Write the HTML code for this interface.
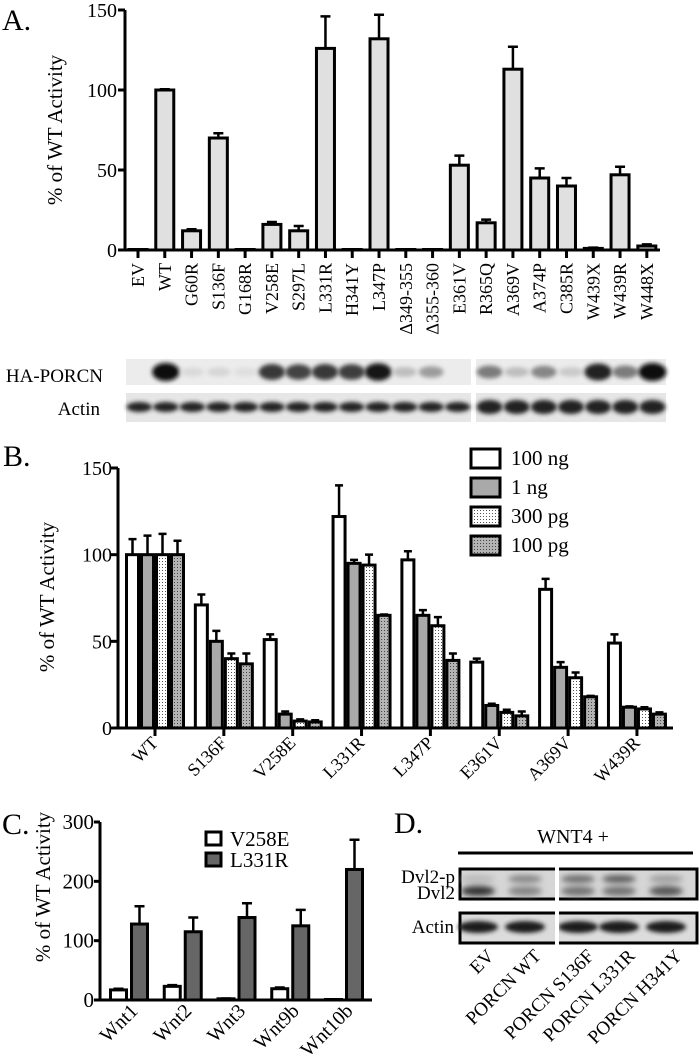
<!DOCTYPE html>
<html><head><meta charset="utf-8"><style>
body{margin:0;background:#fff}
svg{display:block;font-family:"Liberation Serif",serif}
</style></head><body>
<svg id="fig" width="700" height="1061" viewBox="0 0 700 1061" xmlns="http://www.w3.org/2000/svg">
<defs>
<pattern id="dotW" width="3" height="3" patternUnits="userSpaceOnUse"><rect width="3" height="3" fill="#fff"/><rect width="1" height="1" fill="#555"/></pattern>
<pattern id="dotG" width="3" height="3" patternUnits="userSpaceOnUse"><rect width="3" height="3" fill="#b4b4b4"/><rect width="1" height="1" fill="#444"/></pattern>
<filter id="blur" x="-50%" y="-50%" width="200%" height="200%"><feGaussianBlur stdDeviation="2"/></filter>
<filter id="blur3" x="-50%" y="-50%" width="200%" height="200%"><feGaussianBlur stdDeviation="3"/></filter>
</defs>
<g id="gA"></g>
<g id="gBlot"></g>
<g id="gB"></g>
<g id="gC"></g>
<g id="gD"></g>
</svg>
<script>
// Panel A data
const aCats = ["EV","WT","G60R","S136F","G168R","V258E","S297L","L331R","H341Y","L347P","Δ349-355","Δ355-360","E361V","R365Q","A369V","A374P","C385R","W439X","W439R","W448X"];
const aVals = [0,100,12,70,0,16,12,126,0,132,0,0,53,17,113,45,40,1,47,2.5];
const aErrs = [0,0.5,1,3,0,1.5,3,20,0,15,0,0,6,2,14,6,5,0.5,5,1];
const aTicks = [0,50,100,150];
// Panel B data
const bCats = ["WT","S136F","V258E","L331R","L347P","E361V","A369V","W439R"];
const bSeries = ["100 ng","1 ng","300 pg","100 pg"];
const b100ng = [100,71,51,122,97,38,80,49];
const b1ng = [100,50,8,95,65,13,35,12];
const b300pg = [100,40,4,94,59,9,29,11];
const b100pg = [100,37,3.5,65,39,7,18,8];
const b100ngErr = [9,6,3,18,5,2,6,5];
const b1ngErr = [11,6,1.5,2,3,1,3,0.5];
const b300pgErr = [12,3,1,6,5,1.5,3,1];
const b100pgErr = [8,6,1,0.5,4,2.5,0.5,1];
const bTicks = [0,50,100,150];
// Panel C data
const cCats = ["Wnt1","Wnt2","Wnt3","Wnt9b","Wnt10b"];
const cV258E = [17,23,2,19,0.5];
const cV258EErr = [2,2,0.5,2,0];
const cL331R = [128,115,139,125,220];
const cL331RErr = [30,24,24,27,50];
const cTicks = [0,100,200,300];
// Blot lane intensities (0..1)
const haLanes1 = [0,1,0.08,0.1,0.06,0.8,0.75,0.8,0.78,0.95,0.2,0.35,0.02];
const haLanes2 = [0.5,0.2,0.45,0.15,0.9,0.5,1];
const dLanes = ["EV","PORCN WT","PORCN S136F","PORCN L331R","PORCN H341Y"];

const NS="http://www.w3.org/2000/svg";
function mk(tag,parent,attrs){const e=document.createElementNS(NS,tag);for(const k in attrs)e.setAttribute(k,attrs[k]);parent.appendChild(e);return e;}
function txt(parent,x,y,s,size,anchor,extra){const t=mk('text',parent,Object.assign({x:x,y:y,'font-size':size,'text-anchor':anchor||'start'},extra||{}));t.textContent=s;return t;}

// ---------- Panel A ----------
(function(){
const g=document.getElementById('gA');
const x0=125,xEnd=660,y0=250,yTop=10,vmax=150;
const ys=v=>y0-(v/vmax)*(y0-yTop);
const xs=i=>138+i*26.78;
const bw=18;
let t=txt(g,2,30,"A.",30);

mk('line',g,{x1:x0,y1:yTop,x2:x0,y2:y0+1.5,stroke:'#000','stroke-width':3});
mk('line',g,{x1:x0,y1:y0,x2:xEnd,y2:y0,stroke:'#000','stroke-width':3});
aTicks.forEach(v=>{
 const l=mk('line',g,{x1:x0-7,y1:ys(v),x2:x0,y2:ys(v),stroke:'#000','stroke-width':3});
 
 const tt=txt(g,x0-8,ys(v)+7,String(v),20,'end');
 
});
t=txt(g,0,0,"% of WT Activity",21,'middle',{transform:'translate(62,130) rotate(-90)'});

aCats.forEach((c,i)=>{
 const x=xs(i),v=aVals[i],e=aErrs[i];
 if(e>0){const el=mk('path',g,{d:`M${x} ${ys(v)} V${ys(v+e)} M${x-5} ${ys(v+e)} H${x+5}`,stroke:'#000','stroke-width':2.5,fill:'none'});
  }
 const h=Math.max(y0-ys(v),0.5);
 const r=mk('rect',g,{x:x-bw/2,y:y0-h,width:bw,height:h,fill:'#e0e0e0',stroke:'#000','stroke-width':3});
 
 const tk=mk('line',g,{x1:x,y1:y0,x2:x,y2:y0+8,stroke:'#000','stroke-width':3});
 
 const lb=txt(g,0,0,c,18,'end',{transform:`translate(${x+6},263) rotate(-90)`});
 
});
})();

// ---------- Blot A ----------
(function(){
const g=document.getElementById('gBlot');
let t=txt(g,103,382,"HA-PORCN",19,'end');
t=txt(g,100,415,"Actin",19,'end');
const panels=[{x:126,w:345,lanes:haLanes1},{x:476,w:190,lanes:haLanes2}];
panels.forEach((p,pi)=>{
 let r=mk('rect',g,{x:p.x,y:359,width:p.w,height:26,fill:'#ececec'});
 
 r=mk('rect',g,{x:p.x,y:393,width:p.w,height:29,fill:'#e6e6e6'});
 
 const n=p.lanes.length,lw=p.w/n;
 p.lanes.forEach((v,i)=>{
  const cx=p.x+lw*(i+0.5);
  const c=Math.round(235-225*v);
  if(v>0.03){const e=mk('ellipse',g,{cx:cx,cy:372,rx:lw*0.44+v*2,ry:4+v*5,fill:`rgb(${c},${c},${c})`,filter:'url(#blur)'});
   }
  const a=mk('ellipse',g,{cx:cx,cy:407,rx:lw*0.48,ry:pi?7:5,fill:'#222',filter:'url(#blur)'});
  
 });
});
})();

// ---------- Panel B ----------
(function(){
const g=document.getElementById('gB');
const x0=118,xEnd=673,y0=728,yTop=468,vmax=150;
const ys=v=>y0-(v/vmax)*(y0-yTop);
const xs=i=>155+i*68.85;
const bw=12,step=15;
const series=[b100ng,b1ng,b300pg,b100pg];
const errs=[b100ngErr,b1ngErr,b300pgErr,b100pgErr];
const fills=['#fff','#a9a9a9','url(#dotW)','url(#dotG)'];
let t=txt(g,3,466,"B.",30);
mk('line',g,{x1:x0,y1:yTop,x2:x0,y2:y0+1.5,stroke:'#000','stroke-width':3});
mk('line',g,{x1:x0,y1:y0,x2:xEnd,y2:y0,stroke:'#000','stroke-width':3});
bTicks.forEach(v=>{
 const l=mk('line',g,{x1:x0-7,y1:ys(v),x2:x0,y2:ys(v),stroke:'#000','stroke-width':3});
 
 const tt=txt(g,x0-6,ys(v)+7,String(v),20,'end');
 
});
t=txt(g,0,0,"% of WT Activity",21,'middle',{transform:'translate(54,597) rotate(-90)'});

bCats.forEach((c,i)=>{
 const xc=xs(i);
 series.forEach((s,k)=>{
  const x=xc+(k-1.5)*step,v=s[i],e=errs[k][i];
  if(e>0){const el=mk('path',g,{d:`M${x} ${ys(v)} V${ys(v+e)} M${x-4} ${ys(v+e)} H${x+4}`,stroke:'#000','stroke-width':2.5,fill:'none'});
   }
  const h=y0-ys(v);
  const r=mk('rect',g,{x:x-bw/2,y:y0-h,width:bw,height:h,fill:fills[k],stroke:'#000','stroke-width':3});
  
 });
 const tk=mk('line',g,{x1:xc,y1:y0,x2:xc,y2:y0+8,stroke:'#000','stroke-width':3});
 
 const lb=txt(g,0,0,c,18,'end',{transform:`translate(${xc+4},744) rotate(-45)`});
 
});
bSeries.forEach((s,k)=>{
 const y=449+k*29;
 const r=mk('rect',g,{x:471,y:y,width:29,height:19,fill:fills[k],stroke:'#000','stroke-width':3});
 
 const tt=txt(g,511,y+16,s,21);
 
});
})();

// ---------- Panel C ----------
(function(){
const g=document.getElementById('gC');
const x0=100,xEnd=372,y0=1000,yTop=822,vmax=300;
const ys=v=>y0-(v/vmax)*(y0-yTop);
const xs=i=>129+i*53.75;
const bw=16;
let t=txt(g,2,834,"C.",30);
mk('line',g,{x1:x0,y1:yTop,x2:x0,y2:y0+1.5,stroke:'#000','stroke-width':3});
mk('line',g,{x1:x0,y1:y0,x2:xEnd,y2:y0,stroke:'#000','stroke-width':3});
cTicks.forEach(v=>{
 const l=mk('line',g,{x1:x0-6,y1:ys(v),x2:x0,y2:ys(v),stroke:'#000','stroke-width':3});
 
 const tt=txt(g,x0-6,ys(v)+7,String(v),21,'end');
 
});
t=txt(g,0,0,"% of WT Activity",21,'middle',{transform:'translate(50,887) rotate(-90)'});

const ser=[cV258E,cL331R],er=[cV258EErr,cL331RErr],fl=['#fff','#666'],nm=['V258E','L331R'];
cCats.forEach((c,i)=>{
 const xc=xs(i);
 ser.forEach((s,k)=>{
  const x=xc+(k-0.5)*21,v=s[i],e=er[k][i];
  if(e>0){const el=mk('path',g,{d:`M${x} ${ys(v)} V${ys(v+e)} M${x-5} ${ys(v+e)} H${x+5}`,stroke:'#000','stroke-width':2.5,fill:'none'});
   }
  const h=Math.max(y0-ys(v),0.5);
  const r=mk('rect',g,{x:x-bw/2,y:y0-h,width:bw,height:h,fill:fl[k],stroke:'#000','stroke-width':3});
  
 });
 const lb=txt(g,0,0,c,20,'end',{transform:`translate(${xc+10},1012) rotate(-45)`});
 
});
nm.forEach((s,k)=>{
 const y=832+k*21;
 const r=mk('rect',g,{x:206,y:y,width:15,height:13,fill:fl[k],stroke:'#000','stroke-width':3});
 
 const tt=txt(g,230,y+14,s,21);
 
});
})();

// ---------- Panel D ----------
(function(){
const g=document.getElementById('gD');
let t=txt(g,394,833,"D.",30);
t=txt(g,573,843,"WNT4 +",20,'middle');
mk('line',g,{x1:458,y1:853,x2:693,y2:853,stroke:'#000','stroke-width':3});
let r=mk('rect',g,{x:460,y:869,width:237,height:30,fill:'#d6d6d6',stroke:'#000','stroke-width':3});

r=mk('rect',g,{x:460,y:913,width:237,height:30,fill:'#dcdcdc',stroke:'#000','stroke-width':3});

const lx=[478,525,578,619,666];
const upI=[0.15,0.45,0.6,0.7,0.3],loI=[0.85,0.4,0.5,0.5,0.65];
dLanes.forEach((c,i)=>{
 const cu=Math.round(210-170*upI[i]),cl=Math.round(210-190*loI[i]);
 let e=mk('ellipse',g,{cx:lx[i],cy:879,rx:17,ry:4,fill:`rgb(${cu},${cu},${cu})`,filter:'url(#blur3)'});
 
 e=mk('ellipse',g,{cx:lx[i],cy:891,rx:17,ry:5,fill:`rgb(${cl},${cl},${cl})`,filter:'url(#blur3)'});
 
 e=mk('ellipse',g,{cx:lx[i],cy:927,rx:20,ry:6,fill:'#1a1a1a',filter:'url(#blur)'});
 
 const lb=txt(g,0,0,c,19,'end',{transform:`translate(${lx[i]+17},957) rotate(-45)`});
 
});
mk('rect',g,{x:555,y:867,width:4,height:78,fill:'#fff'});
t=txt(g,455,883,"Dvl2-p",19,'end');
t=txt(g,455,899,"Dvl2",19,'end');
t=txt(g,454,933,"Actin",19,'end');
})();
</script>
</body></html>
